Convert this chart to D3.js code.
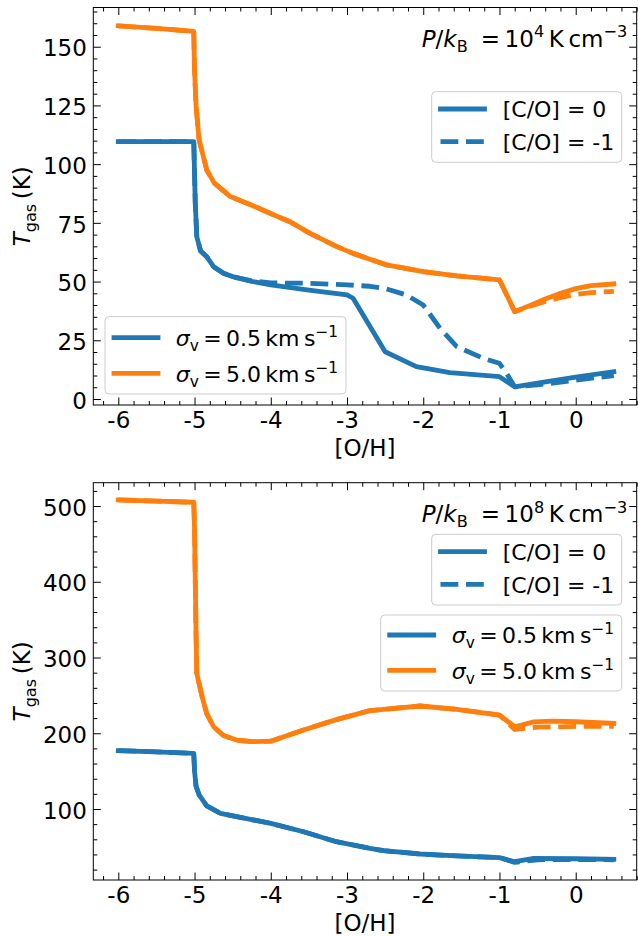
<!DOCTYPE html>
<html><head><meta charset="utf-8">
<script src="https://cdn.jsdelivr.net/npm/d3@7"></script>
<style>body{margin:0;background:#fff} text{font-family:"DejaVu Sans";white-space:pre}</style>
</head><body><svg id="c" width="638" height="936"></svg>
<script>
// ---------- data ----------
const xTicks = [-6, -5, -4, -3, -2, -1, 0];
const yTicksTop = [0, 25, 50, 75, 100, 125, 150];
const yTicksBottom = [100, 200, 300, 400, 500];
const xMinorStep = 0.2, yMinorTop = 5, yMinorBottom = 20;

// Top panel (P/kB = 1e4)
const top_s05_co0 = [[-6,109.6],[-5.5,109.6],[-5.01,109.6],[-4.99,83],[-4.97,69],[-4.92,63],[-4.84,60.6],[-4.75,56.3],[-4.62,53.5],[-4.5,52.1],[-4.25,50.1],[-4.0,48.6],[-3.5,46.4],[-3.0,44.3],[-2.92,42.9],[-2.5,20.1],[-2.09,13.8],[-1.65,11.2],[-1.0,9.5],[-0.8,5.2],[-0.5,6.8],[0,9.3],[0.5,11.6]];
const top_s05_com1 = [[-6,109.6],[-5.5,109.6],[-5.01,109.6],[-4.99,83],[-4.97,69],[-4.92,63],[-4.84,60.6],[-4.75,56.3],[-4.62,53.5],[-4.5,52.1],[-4.25,50.3],[-4.0,49.4],[-3.5,49.3],[-3.0,48.6],[-2.7,48.0],[-2.5,47.0],[-2.22,44.3],[-2.0,40.0],[-1.78,30.1],[-1.56,22.3],[-1.21,17.3],[-1.0,15.2],[-0.9,10.5],[-0.8,5.2],[-0.5,6.0],[0,8.0],[0.5,10.0]];
const top_s50_co0 = [[-6,158.9],[-5.5,157.8],[-5.01,156.5],[-5.0,140],[-4.98,125],[-4.94,110.3],[-4.84,97.5],[-4.74,91.9],[-4.53,86.2],[-4.25,82.5],[-4.01,79.1],[-3.75,75.5],[-3.49,70.6],[-3.14,65.0],[-2.92,62.0],[-2.7,59.5],[-2.48,57.1],[-2.0,54.2],[-1.56,52.4],[-1.0,50.7],[-0.8,37.2],[-0.6,39.8],[-0.4,42.6],[-0.2,45.0],[0,47.0],[0.2,48.3],[0.5,49.0]];
const top_s50_com1 = [[-6,158.9],[-5.5,157.8],[-5.01,156.5],[-5.0,140],[-4.98,125],[-4.94,110.3],[-4.84,97.5],[-4.74,91.9],[-4.53,86.2],[-4.25,82.5],[-4.01,79.1],[-3.75,75.5],[-3.49,70.6],[-3.14,65.0],[-2.92,62.0],[-2.7,59.5],[-2.48,57.1],[-2.0,54.2],[-1.56,52.4],[-1.0,50.7],[-0.8,37.2],[-0.6,39.5],[-0.4,41.5],[-0.2,43.2],[0,44.5],[0.2,45.3],[0.5,45.8]];

// Bottom panel (P/kB = 1e8)
const bot_s05_co0 = [[-6,177],[-5.5,175.5],[-5.01,173.5],[-5.0,150],[-4.98,130],[-4.94,118.5],[-4.84,104],[-4.66,94.3],[-4.3,87],[-4.0,81.1],[-3.57,70],[-3.14,56.8],[-2.7,48.1],[-2.52,45],[-2.04,40.6],[-1.56,38],[-1.0,35.8],[-0.8,30.4],[-0.55,34.9],[0,34.3],[0.5,33.6]];
const bot_s05_com1 = [[-6,177],[-5.5,175.5],[-5.01,173.5],[-5.0,150],[-4.98,130],[-4.94,118.5],[-4.84,104],[-4.66,94.3],[-4.3,87],[-4.0,81.1],[-3.57,70],[-3.14,56.8],[-2.7,48.1],[-2.52,45],[-2.04,40.6],[-1.56,38],[-1.0,35.8],[-0.8,29.5],[-0.5,33.0],[0,33.2],[0.5,33.0]];
const bot_s50_co0 = [[-6,508],[-5.5,506.5],[-5.01,505],[-5.0,470],[-4.99,400],[-4.98,330],[-4.97,279],[-4.9,248],[-4.84,226],[-4.75,208.6],[-4.62,197],[-4.45,191],[-4.25,188.9],[-4.0,189.5],[-3.57,204.3],[-3.14,218],[-2.7,229.8],[-2.52,231.5],[-2.04,236],[-1.56,231.6],[-1.0,224],[-0.8,208.6],[-0.55,215],[-0.3,216],[0,215.2],[0.5,213]];
const bot_s50_com1 = [[-6,508],[-5.5,506.5],[-5.01,505],[-5.0,470],[-4.99,400],[-4.98,330],[-4.97,279],[-4.9,248],[-4.84,226],[-4.75,208.6],[-4.62,197],[-4.45,191],[-4.25,188.9],[-4.0,189.5],[-3.57,204.3],[-3.14,218],[-2.7,229.8],[-2.52,231.5],[-2.04,236],[-1.56,231.6],[-1.0,224],[-0.8,205],[-0.5,208],[0,209],[0.5,209]];

const C0 = "#1f77b4", C1 = "#ff7f0e";

// ---------- drawing ----------
const svg = d3.select("#c");
const FS = 23;      // ticks, axis labels, annotation
const LFS = 22;     // legend
const LW = 4.8;
const DASH = "17.8,7.7";

function mtext(sel, parts, fsz) {
  let cur = 0;
  parts.forEach(p => {
    const ts = sel.append("tspan").text(p.t);
    const off = p.s === "sub" ? fsz * 0.24 : p.s === "sup" ? -fsz * 0.4 : 0;
    if (off - cur !== 0) ts.attr("dy", off - cur);
    cur = off;
    if (p.s) ts.attr("font-size", fsz * 0.7);
    if (p.i) ts.attr("font-style", "italic");
  });
}

function range(a, b, s) { const out = []; for (let v = a; v <= b + 1e-9; v += s) out.push(Math.round(v * 1000) / 1000); return out; }

function panel(cfg) {
  const L = 93.3, R = 636.7;
  const x = d3.scaleLinear().domain([-6.328, 0.80]).range([L, R]);
  const y = d3.scaleLinear().domain(cfg.ydom).range([cfg.bottom, cfg.top]);
  const g = svg.append("g");

  const xMinor = range(-6.2, 0.8, xMinorStep).filter(v => !xTicks.some(t => Math.abs(t - v) < 1e-6));
  const yMinor = range(cfg.ymstart, cfg.ydom[1], cfg.ymstep).filter(v => !cfg.yticks.includes(v) && v >= cfg.ydom[0]);

  const fmt = d => String(d);
  const styleAx = a => { a.select(".domain").remove(); a.selectAll(".tick line").attr("stroke", "#000").attr("stroke-width", 1); a.selectAll("text").attr("font-family", "DejaVu Sans").attr("font-size", FS).attr("fill", "#000"); };

  // bottom
  g.append("g").attr("transform", `translate(0,${cfg.bottom})`).call(d3.axisBottom(x).tickValues(xTicks).tickFormat(fmt).tickSize(-7.5).tickPadding(7)).call(styleAx);
  g.append("g").attr("transform", `translate(0,${cfg.bottom})`).call(d3.axisBottom(x).tickValues(xMinor).tickFormat("").tickSize(-4)).call(styleAx);
  // top
  g.append("g").attr("transform", `translate(0,${cfg.top})`).call(d3.axisTop(x).tickValues(xTicks).tickFormat("").tickSize(-7.5)).call(styleAx);
  g.append("g").attr("transform", `translate(0,${cfg.top})`).call(d3.axisTop(x).tickValues(xMinor).tickFormat("").tickSize(-4)).call(styleAx);
  // left
  const ly = g.append("g").attr("transform", `translate(${L},0)`).call(d3.axisLeft(y).tickValues(cfg.yticks).tickFormat(fmt).tickSize(-7.5).tickPadding(6.5)).call(styleAx);
  ly.selectAll(".tick text").attr("dy", "0.40em");
  g.append("g").attr("transform", `translate(${L},0)`).call(d3.axisLeft(y).tickValues(yMinor).tickFormat("").tickSize(-4)).call(styleAx);
  // right
  g.append("g").attr("transform", `translate(${R},0)`).call(d3.axisRight(y).tickValues(cfg.yticks).tickFormat("").tickSize(-7.5)).call(styleAx);
  g.append("g").attr("transform", `translate(${R},0)`).call(d3.axisRight(y).tickValues(yMinor).tickFormat("").tickSize(-4)).call(styleAx);

  // lines
  const line = d3.line().x(d => x(d[0])).y(d => y(d[1]));
  cfg.series.forEach(s => {
    g.append("path").attr("d", line(s.data)).attr("fill", "none").attr("stroke", s.color)
      .attr("stroke-width", LW).attr("stroke-linejoin", "round")
      .attr("stroke-linecap", s.dash ? "butt" : "square").attr("stroke-dasharray", s.dash ? DASH : null);
  });

  // frame
  g.append("rect").attr("x", L).attr("y", cfg.top).attr("width", R - L).attr("height", cfg.bottom - cfg.top)
    .attr("fill", "none").attr("stroke", "#000").attr("stroke-width", 1);

  // axis labels
  g.append("text").attr("x", (L + R) / 2).attr("y", cfg.bottom + 51).attr("text-anchor", "middle").attr("font-size", FS).text("[O/H]");
  const yl = g.append("text").attr("transform", `translate(30,${(cfg.top + cfg.bottom) / 2}) rotate(-90)`).attr("text-anchor", "middle").attr("font-size", FS);
  mtext(yl, [{ t: "T", i: 1 }, { t: "gas", s: "sub" }, { t: "\u2009(K)" }], FS);

  // annotation
  const an = g.append("text").attr("x", 421.7).attr("y", cfg.top + 39).attr("font-size", FS);
  mtext(an, [{ t: "P", i: 1 }, { t: "/" }, { t: "k", i: 1 }, { t: "B", s: "sub" }, { t: " \u2005=\u200910" }, { t: cfg.exp, s: "sup" }, { t: "\u2009K\u2009cm" }, { t: "\u22123", s: "sup" }], FS);

  // legends
  cfg.legends.forEach(lg => {
    g.append("rect").attr("x", lg.x).attr("y", lg.y).attr("width", lg.w).attr("height", lg.h).attr("rx", 4)
      .attr("fill", "#fff").attr("fill-opacity", 0.8).attr("stroke", "#cccccc").attr("stroke-width", 1);
    lg.items.forEach((it, i) => {
      const cy = lg.y + lg.first + i * lg.step;
      g.append("line").attr("x1", lg.x + lg.lx).attr("x2", lg.x + lg.lx + 44).attr("y1", cy).attr("y2", cy)
        .attr("stroke", it.color).attr("stroke-width", LW)
        .attr("stroke-linecap", it.dash ? "butt" : "square").attr("stroke-dasharray", it.dash ? DASH : null);
      const t = g.append("text").attr("x", lg.x + lg.tx).attr("y", cy + 8.2).attr("font-size", LFS);
      mtext(t, it.parts, LFS);
    });
  });
}

const coItems = [
  { color: C0, dash: false, parts: [{ t: "[C/O] = 0" }] },
  { color: C0, dash: true, parts: [{ t: "[C/O] = -1" }] }
];
const sigItems = [
  { color: C0, dash: false, parts: [{ t: "σ", i: 1 }, { t: "v", s: "sub" }, { t: "\u2009=\u20090.5\u2009km\u2009s" }, { t: "\u22121", s: "sup" }] },
  { color: C1, dash: false, parts: [{ t: "σ", i: 1 }, { t: "v", s: "sub" }, { t: "\u2009=\u20095.0\u2009km\u2009s" }, { t: "\u22121", s: "sup" }] }
];

panel({
  top: 7.5, bottom: 405, ydom: [-2.56, 166.7], yticks: yTicksTop, ymstart: 5, ymstep: yMinorTop, exp: "4",
  series: [
    { data: top_s05_co0, color: C0, dash: false },
    { data: top_s05_com1, color: C0, dash: true },
    { data: top_s50_co0, color: C1, dash: false },
    { data: top_s50_com1, color: C1, dash: true }
  ],
  legends: [
    { x: 431.7, y: 91.7, w: 190, h: 70.6, first: 17.3, step: 32.7, lx: 8.8, tx: 71, items: coItems },
    { x: 105, y: 316.7, w: 241, h: 77.3, first: 21, step: 35.6, lx: 9, tx: 70.7, items: sigItems }
  ]
});

panel({
  top: 482.7, bottom: 880, ydom: [6.27, 530.8], yticks: yTicksBottom, ymstart: 20, ymstep: yMinorBottom, exp: "8",
  series: [
    { data: bot_s05_co0, color: C0, dash: false },
    { data: bot_s05_com1, color: C0, dash: true },
    { data: bot_s50_co0, color: C1, dash: false },
    { data: bot_s50_com1, color: C1, dash: true }
  ],
  legends: [
    { x: 431.7, y: 534.3, w: 190, h: 70.7, first: 17.4, step: 32.6, lx: 8.8, tx: 71, items: coItems },
    { x: 380.7, y: 615, w: 241, h: 76, first: 20, step: 35.3, lx: 9, tx: 71, items: sigItems }
  ]
});
</script></body></html>
